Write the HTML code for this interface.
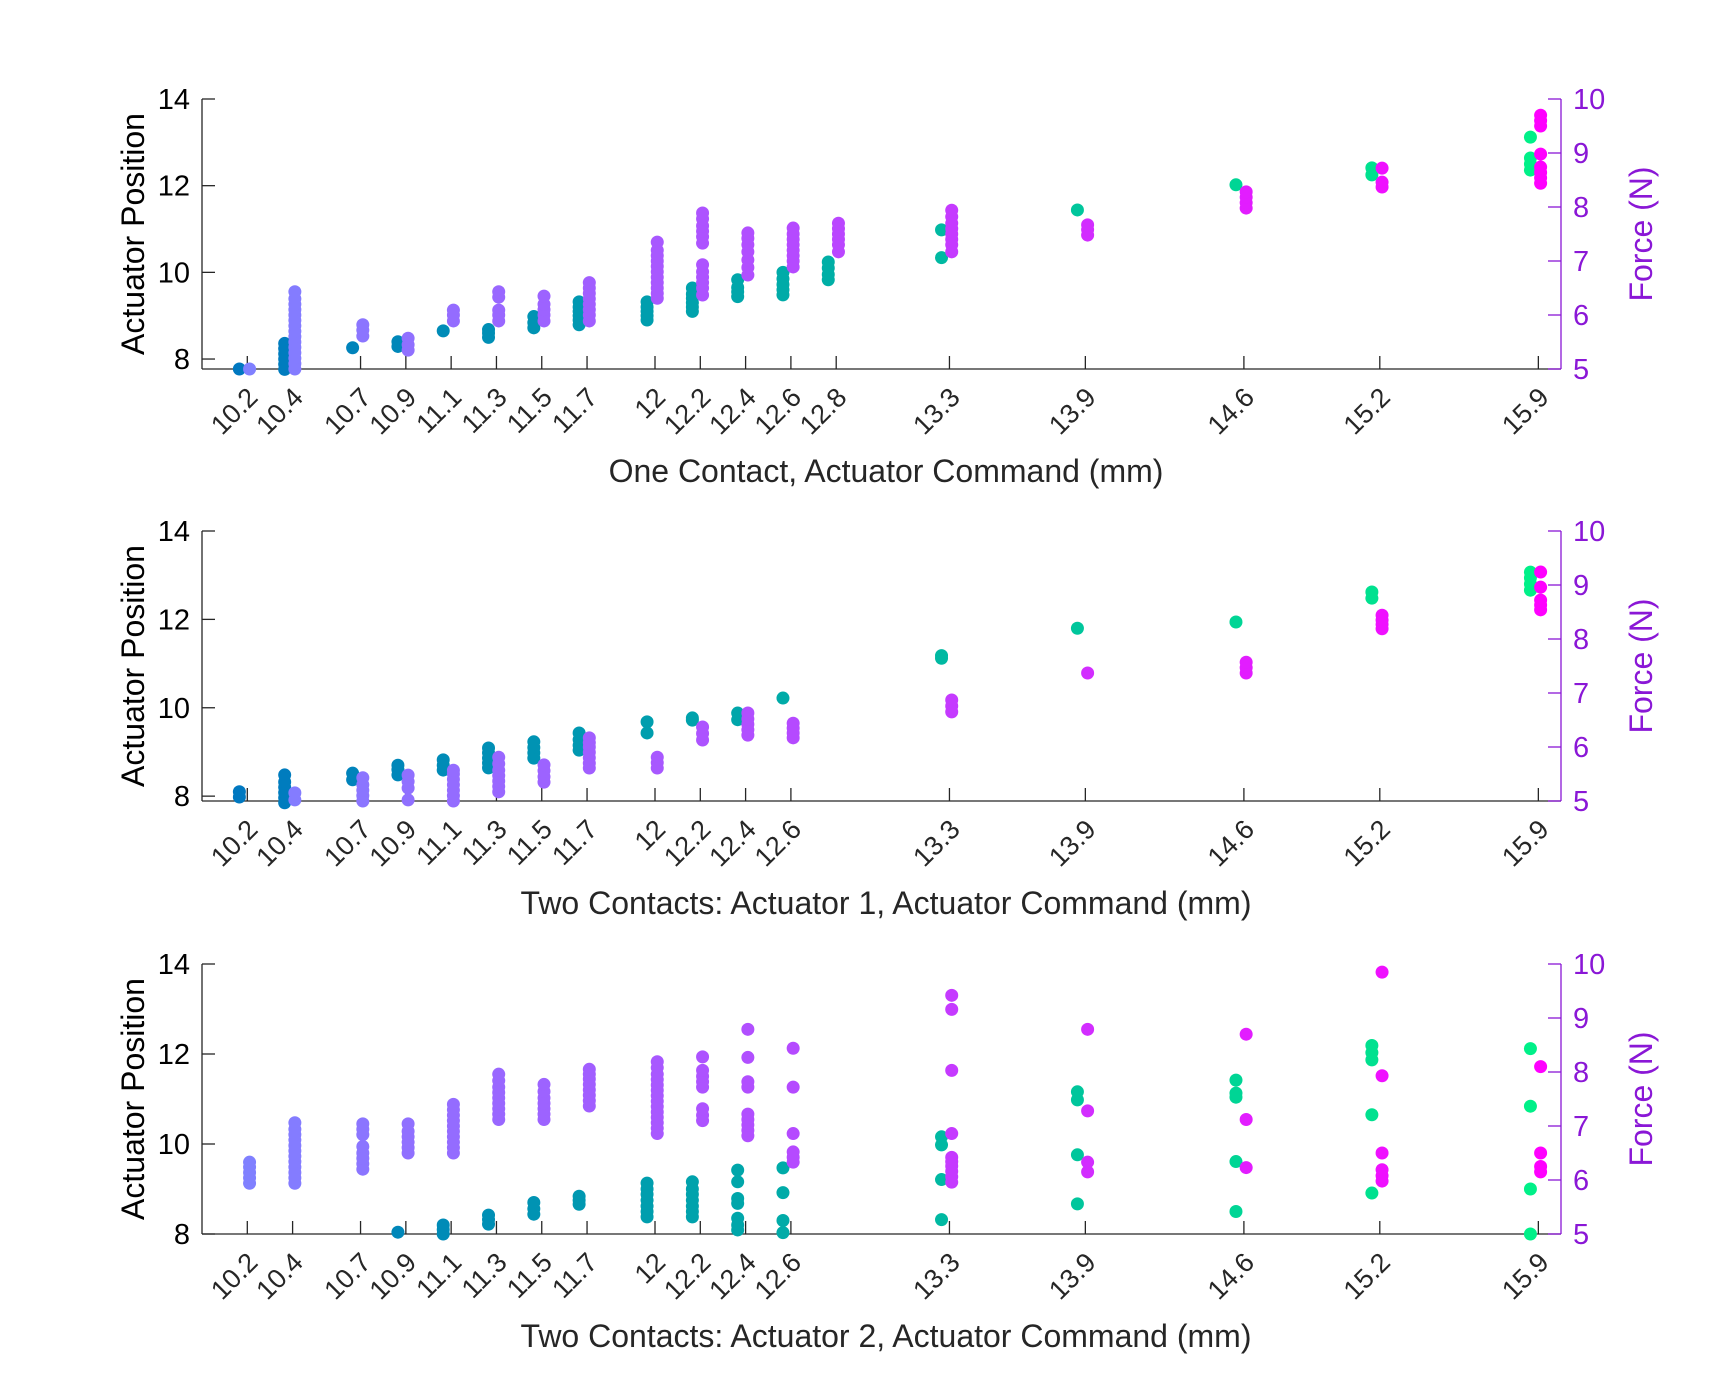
<!DOCTYPE html>
<html><head><meta charset="utf-8"><style>
html,body{margin:0;padding:0;background:#fff;}
svg{display:block;font-family:"Liberation Sans",Arial,sans-serif;}
</style></head><body>
<svg id="chart" width="1712" height="1394" viewBox="0 0 1712 1394" xmlns="http://www.w3.org/2000/svg"></svg>
<script>
// ---- data ----
const commands = [10.2,10.4,10.7,10.9,11.1,11.3,11.5,11.7,12.0,12.2,12.4,12.6,12.8,13.3,13.9,14.6,15.2,15.9];
const tickLabels1 = ["10.2","10.4","10.7","10.9","11.1","11.3","11.5","11.7","12","12.2","12.4","12.6","12.8","13.3","13.9","14.6","15.2","15.9"];
const tickLabels2 = ["10.2","10.4","10.7","10.9","11.1","11.3","11.5","11.7","12","12.2","12.4","12.6","","13.3","13.9","14.6","15.2","15.9"];
const leftTicks = [8,10,12,14];
const rightTicks = [5,6,7,8,9,10];

const pos1 = [[7.77],[7.76,7.88,8.0,8.12,8.24,8.36],[8.26],[8.29,8.4],[8.65],[8.5,8.6,8.68],[8.72,8.84,8.98],[8.79,8.9,9.0,9.1,9.2,9.32],[8.9,9.0,9.1,9.2,9.32],[9.1,9.2,9.3,9.4,9.5,9.64],[9.44,9.55,9.65,9.83],[9.48,9.6,9.72,9.85,10.0],[9.83,9.95,10.1,10.24],[10.34,10.98],[11.44],[12.02],[12.25,12.41],[12.36,12.5,12.64,13.12]];
const force1 = [[5.0],[5.0,5.1,5.2,5.3,5.4,5.5,5.6,5.7,5.8,5.9,6.0,6.1,6.2,6.3,6.43],[5.61,5.72,5.82],[5.35,5.45,5.57],[5.89,6.0,6.09],[5.89,6.0,6.09,6.33,6.43],[5.89,6.0,6.1,6.2,6.35],[5.89,6.0,6.1,6.2,6.3,6.4,6.5,6.6],[6.31,6.4,6.5,6.6,6.7,6.8,6.9,7.0,7.1,7.2,7.35],[6.37,6.5,6.6,6.7,6.8,6.93,7.33,7.45,7.55,7.65,7.78,7.89],[6.74,6.88,7.02,7.17,7.3,7.42,7.52],[6.89,7.0,7.1,7.2,7.3,7.4,7.5,7.61],[7.17,7.3,7.4,7.5,7.6,7.7],[7.17,7.3,7.4,7.5,7.6,7.7,7.82,7.94],[7.48,7.58,7.67],[7.98,8.08,8.18,8.28],[8.37,8.46,8.72],[8.44,8.54,8.64,8.74,8.98,9.5,9.6,9.7]];

const pos2 = [[7.98,8.1],[7.85,7.96,8.08,8.2,8.32,8.48],[8.37,8.52],[8.48,8.6,8.7],[8.59,8.7,8.82],[8.64,8.75,8.86,8.98,9.09],[8.86,8.98,9.1,9.23],[9.04,9.15,9.28,9.43],[9.43,9.68],[9.72,9.77],[9.73,9.88],[10.22],[],[11.12,11.18],[11.8],[11.94],[12.48,12.62],[12.66,12.8,12.94,13.07]];
const force2 = [[],[5.02,5.15],[5.0,5.1,5.2,5.3,5.43],[5.02,5.24,5.36,5.48],[5.0,5.1,5.2,5.3,5.4,5.5,5.57],[5.17,5.27,5.37,5.47,5.57,5.69,5.81],[5.35,5.45,5.56,5.67],[5.61,5.7,5.8,5.9,6.0,6.08,6.17],[5.61,5.71,5.81],[6.13,6.25,6.37],[6.22,6.32,6.42,6.52,6.63],[6.17,6.26,6.35,6.44],[],[6.65,6.76,6.87],[7.37],[7.37,7.47,7.57],[8.19,8.27,8.35,8.44],[8.54,8.63,8.72,8.96,9.24]];

const pos3 = [[],[],[],[8.04],[8.0,8.1,8.2],[8.22,8.32,8.42],[8.44,8.56,8.7],[8.66,8.75,8.84],[8.38,8.5,8.62,8.75,8.88,9.0,9.13],[8.38,8.5,8.62,8.75,8.88,9.0,9.16],[8.09,8.2,8.35,8.68,8.79,9.16,9.42],[8.03,8.3,8.92,9.47],[],[8.32,9.21,9.98,10.16],[8.67,9.76,10.98,11.16],[8.5,9.61,11.04,11.13,11.42],[8.91,10.65,11.87,12.03,12.19],[8.0,9.0,10.84,12.12]];
const force3 = [[5.94,6.04,6.14,6.24,6.33],[5.94,6.04,6.14,6.24,6.34,6.44,6.54,6.64,6.74,6.84,6.94,7.06],[6.2,6.3,6.4,6.5,6.62,6.84,6.94,7.04],[6.5,6.6,6.7,6.8,6.9,7.04],[6.5,6.6,6.7,6.8,6.9,7.0,7.1,7.2,7.3,7.4],[7.12,7.22,7.32,7.42,7.52,7.62,7.72,7.84,7.96],[7.12,7.22,7.32,7.42,7.52,7.64,7.77],[7.37,7.47,7.57,7.67,7.77,7.87,7.96,8.05],[6.86,6.96,7.06,7.16,7.26,7.36,7.46,7.56,7.66,7.76,7.86,7.96,8.08,8.19],[7.1,7.2,7.32,7.72,7.82,7.92,8.03,8.28],[6.82,6.92,7.02,7.12,7.22,7.72,7.82,8.27,8.79],[6.33,6.42,6.52,6.86,7.72,8.44],[],[5.96,6.06,6.16,6.26,6.34,6.42,6.86,8.03,9.16,9.42],[6.15,6.33,7.28,8.79],[6.23,7.12,8.7],[5.98,6.08,6.19,6.5,7.93,9.85],[6.15,6.25,6.5,8.1]];

const titles = ["One Contact, Actuator Command (mm)","Two Contacts: Actuator 1, Actuator Command (mm)","Two Contacts: Actuator 2, Actuator Command (mm)"];

// ---- layout ----
const NS = "http://www.w3.org/2000/svg";
const svg = document.getElementById('chart');
const X0 = 202, X1 = 1561, XMIN = 10.0, XMAX = 16.0;
const FC = "#8a17d6";
function xs(v){ return X0 + (v - XMIN) / (XMAX - XMIN) * (X1 - X0); }
const panels = [
  {top:99, bottom:369, ymin:7.77, pos:pos1, force:force1, labels:tickLabels1, name:"one-contact"},
  {top:531, bottom:801, ymin:7.89, pos:pos2, force:force2, labels:tickLabels2, name:"two-contacts-actuator-1"},
  {top:964, bottom:1234, ymin:8.0, pos:pos3, force:force3, labels:tickLabels2, name:"two-contacts-actuator-2"}
];
function mk(tag, attrs, parent){ const e=document.createElementNS(NS,tag); for(const k in attrs) e.setAttribute(k,attrs[k]); (parent||svg).appendChild(e); return e; }
function mix(a,b,t){ return Math.round(a+(b-a)*t); }
function posColor(c){ const t=(c-10.2)/5.7; return `rgb(0,${mix(120,240,t)},${mix(192,136,t)})`; }
function forceColor(c){ const t=(c-10.2)/5.7; return `rgb(${mix(128,255,t)},${mix(128,0,t)},255)`; }

panels.forEach((p, pi) => {
  const g = mk('g', {});
  
  
  const ys = v => p.bottom - (v - p.ymin) / (14 - p.ymin) * (p.bottom - p.top);
  const yf = v => p.bottom - (v - 5) / 5 * (p.bottom - p.top);
  const la = mk('line', {x1:X0,y1:p.top,x2:X0,y2:p.bottom,stroke:'#262626','stroke-width':1.3}, g);
   
  const ba = mk('line', {x1:X0,y1:p.bottom,x2:X1,y2:p.bottom,stroke:'#262626','stroke-width':1.3}, g);
   
  const ra = mk('line', {x1:X1,y1:p.top,x2:X1,y2:p.bottom,stroke:FC,'stroke-width':1.3}, g);
   
  leftTicks.forEach(v => {
    const y = ys(v);
    mk('line', {x1:X0,y1:y,x2:X0+13,y2:y,stroke:'#262626','stroke-width':1.3}, g);
    const t = mk('text', {x:X0-12,y:y+10,'text-anchor':'end','font-size':29,fill:'#000'}, g);
     
    t.textContent = v;
  });
  rightTicks.forEach(v => {
    const y = yf(v);
    mk('line', {x1:X1-13,y1:y,x2:X1,y2:y,stroke:FC,'stroke-width':1.3}, g);
    const t = mk('text', {x:X1+12,y:y+10,'font-size':29,fill:FC}, g);
     
    t.textContent = v;
  });
  commands.forEach((c, i) => {
    const x = xs(c);
    if (p.labels[i] === "") return;
    mk('line', {x1:x,y1:p.bottom,x2:x,y2:p.bottom-13,stroke:'#262626','stroke-width':1.3}, g);
    const t = mk('text', {x:x+12,y:p.bottom+30,'text-anchor':'end','font-size':27,fill:'#262626',transform:`rotate(-45 ${x+12} ${p.bottom+30})`}, g);
     
    t.textContent = p.labels[i];
  });
  const yt = mk('text', {x:0,y:0,'text-anchor':'middle','font-size':32,fill:'#000',transform:`translate(144 ${(p.top+p.bottom)/2}) rotate(-90)`}, g);
   
  yt.textContent = "Actuator Position";
  const ft = mk('text', {x:0,y:0,'text-anchor':'middle','font-size':32,fill:FC,transform:`translate(1652 ${(p.top+p.bottom)/2}) rotate(-90)`}, g);
   
  ft.textContent = "Force (N)";
  const xt = mk('text', {x:886,y:p.bottom+113,'text-anchor':'middle','font-size':32,fill:'#262626'}, g);
   
  xt.textContent = titles[pi];
  commands.forEach((c, i) => {
    p.pos[i].forEach(v => {
      const d = mk('circle', {cx:xs(c-0.035), cy:ys(v), r:6.5, fill:posColor(c)}, g);
      
      
    });
    p.force[i].forEach(v => {
      const d = mk('circle', {cx:xs(c+0.01), cy:yf(v), r:6.5, fill:forceColor(c)}, g);
      
      
    });
  });
});
</script>
</body></html>
